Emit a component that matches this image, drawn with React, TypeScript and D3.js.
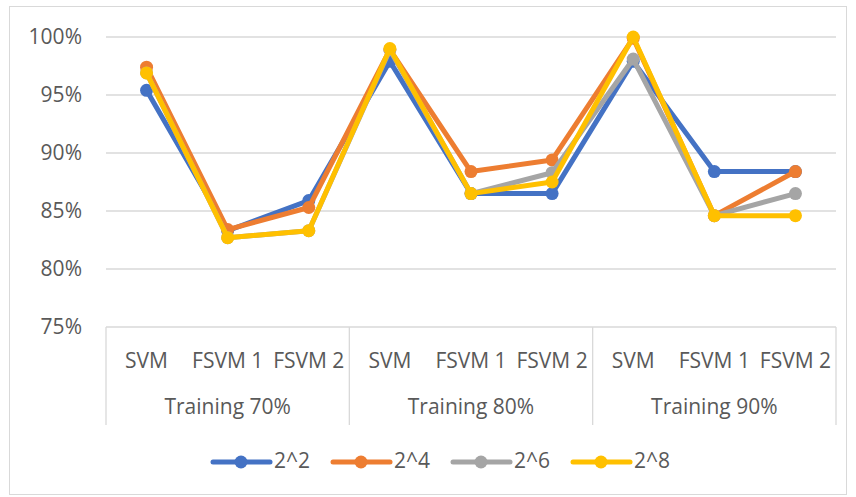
import React from "react";
import * as d3 from "d3";

const groups = ["Training 70%", "Training 80%", "Training 90%"];
const methods = ["SVM", "FSVM 1", "FSVM 2"];
const seriesNames = ["2^2", "2^4", "2^6", "2^8"];
const seriesColors = ["#4472C4", "#ED7D31", "#A5A5A5", "#FFC000"];
const s22 = [95.4, 83.3, 85.9, 97.9, 86.5, 86.5, 97.9, 88.4, 88.4];
const s24 = [97.4, 83.4, 85.3, 98.9, 88.4, 89.4, 99.9, 84.6, 88.4];
const s26 = [96.9, 82.7, 83.3, 98.9, 86.5, 88.3, 98.1, 84.6, 86.5];
const s28 = [96.9, 82.7, 83.3, 99.0, 86.5, 87.5, 100.0, 84.6, 84.6];
const yTicks = [75, 80, 85, 90, 95, 100];

const W = 856;
const H = 497;

export default function App() {
  const left = 106;
  const right = 836;
  const top = 37;
  const bottom = 327;
  const cats = groups.flatMap((g) => methods.map((m) => g + "|" + m));
  const x = d3.scaleBand<string>().domain(cats).range([left, right]);
  const gx = d3.scaleBand<string>().domain(groups).range([left, right]);
  const y = d3.scaleLinear().domain([75, 100]).range([bottom, top]);
  const allSeries = [s22, s24, s26, s28];
  const line = d3
    .line<number>()
    .x((_, i) => (x(cats[i]) as number) + x.bandwidth() / 2)
    .y((v) => y(v));
  const font = "'Open Sans', 'Liberation Sans', Arial, sans-serif";
  const textColor = "#595959";
  const fs = 21;
  const legendX = [213, 333, 453, 573];

  return (
    <svg
      width={W}
      height={H}
      style={{ position: "absolute", left: 0, top: 0 }}
      fontFamily={font}
    >
      <rect x={0} y={0} width={W} height={H} fill="#fff" />
      <rect x={9.5} y={6.5} width={837} height={488} fill="none" stroke="#d9d9d9" strokeWidth={1} />
      {yTicks.map((t) => (
        <g key={t}>
          {t > 75 && (
            <line x1={left} x2={right} y1={y(t)} y2={y(t)} stroke="#d9d9d9" strokeWidth={1.3} />
          )}
          <text x={82} y={y(t)} dy="0.35em" textAnchor="end" fontSize={fs} fill={textColor}>
            {t}%
          </text>
        </g>
      ))}
      <line x1={left} x2={right} y1={bottom} y2={bottom} stroke="#d9d9d9" strokeWidth={1.3} />
      {[left, ...groups.map((g) => (gx(g) as number) + gx.bandwidth())].map((xx, i) => (
        <line key={i} x1={xx} x2={xx} y1={bottom} y2={425} stroke="#d9d9d9" strokeWidth={1.3} />
      ))}
      {cats.map((c, i) => (
        <text
          key={c}
          x={(x(c) as number) + x.bandwidth() / 2}
          y={360.5}
          dy="0.35em"
          textAnchor="middle"
          fontSize={fs}
          fill={textColor}
        >
          {methods[i % 3]}
        </text>
      ))}
      {groups.map((g) => (
        <text
          key={g}
          x={(gx(g) as number) + gx.bandwidth() / 2}
          y={406.5}
          dy="0.35em"
          textAnchor="middle"
          fontSize={fs}
          fill={textColor}
        >
          {g}
        </text>
      ))}
      {allSeries.map((s, si) => (
        <g key={si}>
          <path
            d={line(s) as string}
            fill="none"
            stroke={seriesColors[si]}
            strokeWidth={5}
            strokeLinejoin="round"
            strokeLinecap="round"
          />
          {s.map((v, i) => (
            <circle
              key={i}
              cx={(x(cats[i]) as number) + x.bandwidth() / 2}
              cy={y(v)}
              r={6.5}
              fill={seriesColors[si]}
            />
          ))}
        </g>
      ))}
      {seriesNames.map((n, i) => (
        <g key={n}>
          <line
            x1={legendX[i]}
            x2={legendX[i] + 57}
            y1={462}
            y2={462}
            stroke={seriesColors[i]}
            strokeWidth={5}
            strokeLinecap="round"
          />
          <circle cx={legendX[i] + 28} cy={462} r={6.5} fill={seriesColors[i]} />
          <text x={legendX[i] + 61} y={461} dy="0.35em" fontSize={fs} fill={textColor}>
            {n}
          </text>
        </g>
      ))}
    </svg>
  );
}
